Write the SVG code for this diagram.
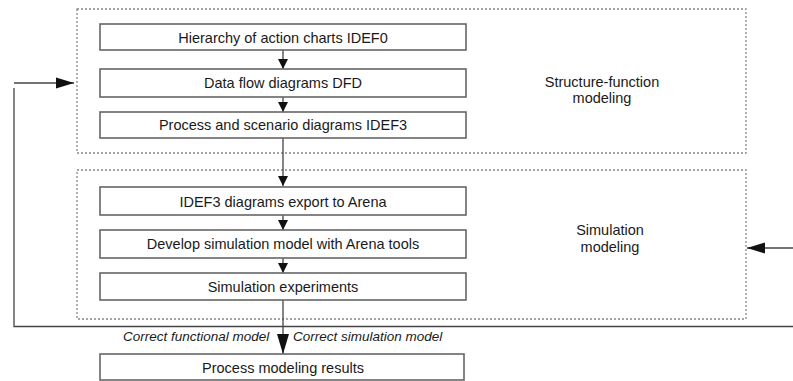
<svg xmlns="http://www.w3.org/2000/svg" width="793" height="381" viewBox="0 0 793 381">
  <defs>
    <marker id="ah" markerUnits="userSpaceOnUse" markerWidth="12" markerHeight="12" refX="10" refY="6" orient="auto">
      <path d="M0,1 L10,6 L0,11 Z" fill="#111"/>
    </marker>
    <marker id="ahBig" markerUnits="userSpaceOnUse" markerWidth="22" markerHeight="14" refX="20" refY="7" orient="auto">
      <path d="M0,1 L20,7 L0,13 Z" fill="#111"/>
    </marker>
    <marker id="ahSide" markerUnits="userSpaceOnUse" markerWidth="20" markerHeight="12" refX="18" refY="6" orient="auto">
      <path d="M0,0.5 L18,6 L0,11.5 Z" fill="#111"/>
    </marker>
  </defs>
  <style>
    .grp { fill: none; stroke: #888; stroke-width: 1.3; stroke-dasharray: 2 2; }
    .box { fill: #fff; stroke: #666; stroke-width: 1.6; }
    .lbl { font-family: "Liberation Sans", Arial, sans-serif; font-size: 14.5px; fill: #1a1a1a; text-anchor: middle; }
    .it { font-family: "Liberation Sans", Arial, sans-serif; font-size: 13.5px; font-style: italic; fill: #1a1a1a; }
    .ln { fill: none; stroke: #444; stroke-width: 1.3; }
  </style>
  <rect width="793" height="381" fill="#fff"/>

  <g id="group-structure">
    <rect class="grp" x="77" y="9" width="669" height="144"/>
    <text class="lbl" x="602" y="87">Structure-function</text>
    <text class="lbl" x="602" y="103">modeling</text>
  </g>
  <g id="group-simulation">
    <rect class="grp" x="77" y="170" width="669" height="149"/>
    <text class="lbl" x="610" y="235">Simulation</text>
    <text class="lbl" x="610" y="252">modeling</text>
  </g>

  <g id="connectors">
    <line class="ln" x1="283" y1="50" x2="283" y2="69" marker-end="url(#ah)"/>
    <line class="ln" x1="283" y1="97" x2="283" y2="112" marker-end="url(#ah)"/>
    <line class="ln" x1="283" y1="138" x2="283" y2="186" marker-end="url(#ah)"/>
    <line class="ln" x1="283" y1="215" x2="283" y2="230" marker-end="url(#ah)"/>
    <line class="ln" x1="283" y1="258" x2="283" y2="273" marker-end="url(#ah)"/>
    <line class="ln" x1="283" y1="300" x2="283" y2="354" marker-end="url(#ahBig)"/>
    <line class="ln" x1="14" y1="83" x2="74" y2="83" marker-end="url(#ahSide)"/>
    <polyline class="ln" points="14,88 14,326.5 793,326.5"/>
    <line class="ln" x1="793" y1="248" x2="747" y2="248" marker-end="url(#ahSide)"/>
    <text class="it" x="123" y="341">Correct functional model</text>
    <text class="it" x="293" y="341">Correct simulation model</text>
  </g>

  <g id="n1">
    <rect class="box" x="100" y="24" width="366" height="26"/>
    <text class="lbl" x="283" y="43">Hierarchy of action charts IDEF0</text>
  </g>
  <g id="n2">
    <rect class="box" x="100" y="69" width="366" height="28"/>
    <text class="lbl" x="283" y="88">Data flow diagrams DFD</text>
  </g>
  <g id="n3">
    <rect class="box" x="100" y="112" width="366" height="26"/>
    <text class="lbl" x="283" y="130">Process and scenario diagrams IDEF3</text>
  </g>
  <g id="n4">
    <rect class="box" x="100" y="187" width="366" height="28"/>
    <text class="lbl" x="283" y="207">IDEF3 diagrams export to Arena</text>
  </g>
  <g id="n5">
    <rect class="box" x="100" y="230" width="366" height="28"/>
    <text class="lbl" x="283" y="249">Develop simulation model with Arena tools</text>
  </g>
  <g id="n6">
    <rect class="box" x="100" y="273" width="366" height="27"/>
    <text class="lbl" x="283" y="292">Simulation experiments</text>
  </g>
  <g id="n7">
    <rect class="box" x="100" y="354" width="364" height="26"/>
    <text class="lbl" x="283" y="373">Process modeling results</text>
  </g>
</svg>
